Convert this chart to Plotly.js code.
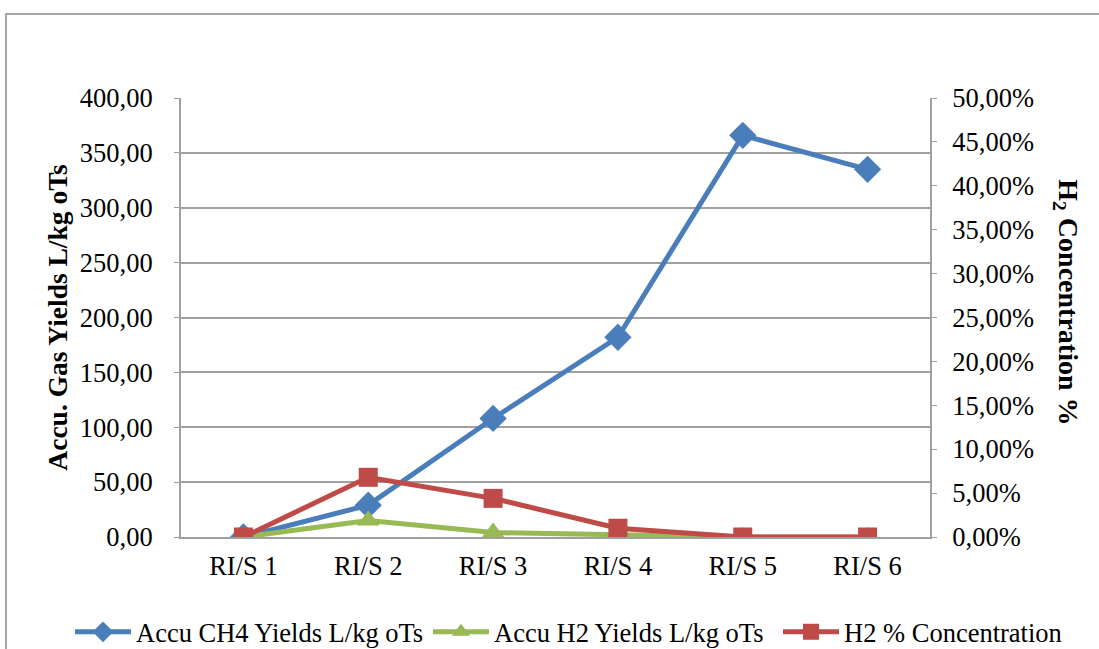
<!DOCTYPE html>
<html>
<head>
<meta charset="utf-8">
<script src="https://cdn.plot.ly/plotly-3.0.1.min.js"></script>
<style>
html,body{margin:0;padding:0;background:#fff;overflow:hidden;}
#frame{position:absolute;left:5px;top:13px;width:1200px;height:700px;border:2px solid #a6a6a6;box-sizing:border-box;}
#chart{position:absolute;left:0;top:0;width:1099px;height:649px;}
</style>
</head>
<body>
<div id="frame"></div>
<div id="chart"></div>
<script>
const categories = ["RI/S 1","RI/S 2","RI/S 3","RI/S 4","RI/S 5","RI/S 6"];
const ch4Yields = [0, 29, 108, 182, 366, 335];
const h2Yields = [0, 15, 4, 2, 0, 0];
const h2Concentration = [0, 0.068, 0.044, 0.010, 0, 0];

const fam = "Liberation Serif";
const fs = 26.5;
const font = {family: fam, color: "#000", size: fs};

const traces = [
  {x: categories, y: ch4Yields, name: "Accu CH4 Yields L/kg oTs", type: "scatter", mode: "lines+markers", legend: "legend",
   line: {color: "#4a7ebb", width: 5}, marker: {symbol: "diamond", size: 21, color: "#4a7ebb"}},
  {x: categories, y: h2Yields, name: "Accu H2 Yields L/kg oTs", type: "scatter", mode: "lines+markers", legend: "legend2",
   line: {color: "#98b954", width: 5}, marker: {symbol: "triangle-up", size: 20, color: "#98b954"}},
  {x: categories, y: h2Concentration, name: "H2 % Concentration", type: "scatter", mode: "lines+markers", yaxis: "y2", legend: "legend3",
   line: {color: "#be4b48", width: 5}, marker: {symbol: "square", size: 19, color: "#be4b48"}}
];

function legendAt(px) {
  return {orientation: "h", xref: "container", yref: "container", x: px / 1099, xanchor: "left", y: 0.026, yanchor: "middle",
          font: {family: fam, size: fs, color: "#000"}, itemwidth: 56, bgcolor: "rgba(0,0,0,0)"};
}

const layout = {
  width: 1099, height: 649,
  paper_bgcolor: "rgba(0,0,0,0)", plot_bgcolor: "rgba(0,0,0,0)",
  separators: ",.",
  font: font,
  margin: {l: 181, r: 169, t: 98, b: 112, autoexpand: false},
  showlegend: true,
  legend: legendAt(70),
  legend2: legendAt(428),
  legend3: legendAt(778),
  xaxis: {type: "category", range: [-0.5, 5.5], showgrid: false, showline: true, linecolor: "#a0a0a0", linewidth: 2,
          ticks: "", ticklabelstandoff: 4, tickfont: {family: fam, size: fs, color: "#000"}, zeroline: false, fixedrange: true},
  yaxis: {range: [0, 400], dtick: 50, tickformat: ".2f", showgrid: true, gridcolor: "#a0a0a0", gridwidth: 2,
          showline: true, linecolor: "#a0a0a0", linewidth: 2, ticks: "outside", ticklen: 5, tickcolor: "#a0a0a0",
          ticklabelstandoff: 16, zeroline: false, tickfont: {family: fam, size: fs, color: "#000"},
          title: {text: "Accu. Gas Yields L/kg oTs", font: {family: fam, size: 27.5, weight: "bold", color: "#000"}, standoff: 4}},
  yaxis2: {range: [0, 0.5], dtick: 0.05, tickformat: ".2%", overlaying: "y", side: "right", showgrid: false,
           showline: true, linecolor: "#a0a0a0", linewidth: 2, ticks: "outside", ticklen: 5, tickcolor: "#a0a0a0",
           ticklabelstandoff: 10, zeroline: false, tickfont: {family: fam, size: fs, color: "#000"},
           title: {text: "H<sub>2</sub> Concentration %", font: {family: fam, size: 28, weight: "bold", color: "#000"}, standoff: 3}}
};

Plotly.newPlot("chart", traces, layout, {displayModeBar: false, staticPlot: true}).then(function(){
  const t = document.querySelector(".y2title");
  if (t) {
    const bb = t.getBBox();
    const cx = bb.x + bb.width/2, cy = bb.y + bb.height/2;
    t.setAttribute("transform", "rotate(180," + cx + "," + cy + ") " + (t.getAttribute("transform") || ""));
  }
});
</script>
</body>
</html>
